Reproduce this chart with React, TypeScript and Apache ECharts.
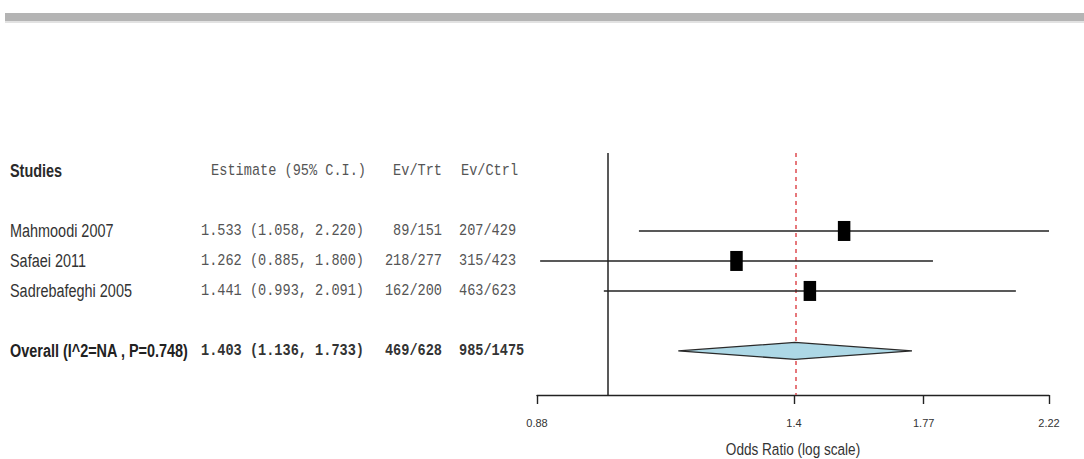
import React, { useEffect, useRef } from "react";
import * as echarts from "echarts";

// ---------- data ----------
const studies = ["Mahmoodi 2007", "Safaei 2011", "Sadrebafeghi 2005"];
const estimate = [1.533, 1.262, 1.441];
const lower = [1.058, 0.885, 0.993];
const upper = [2.22, 1.8, 2.091];
const evTrt = ["89/151", "218/277", "162/200"];
const evCtrl = ["207/429", "315/423", "463/623"];

const overallLabel = "Overall (I^2=NA , P=0.748)";
const overallEstimate = 1.403;
const overallLower = 1.136;
const overallUpper = 1.733;
const overallTrt = "469/628";
const overallCtrl = "985/1475";

const headers = ["Studies", "Estimate (95% C.I.)", "Ev/Trt", "Ev/Ctrl"];
const tickValues = [0.88, 1.4, 1.77, 2.22];
const tickLabels = ["0.88", "1.4", "1.77", "2.22"];
const axisMin = 0.88;
const axisMax = 2.22;
const nullValue = 1;
const axisTitle = "Odds Ratio (log scale)";

// row indices (layout rows)
const headerRow = 0;
const studyRows = [2, 3, 4];
const overallRow = 6;

// ---------- styles ----------
const SANS = '"Liberation Sans", Arial, sans-serif';
const MONO = '"Liberation Mono", "Courier New", monospace';
const NAME_X = 10;
const EST_X = 201;
const EST_HDR_RIGHT = 366;
const TRT_RIGHT = 442;
const CTRL_X = 459;
const CTRL_HDR_X = 461;

const fmt = (v: number) => v.toFixed(3);
const ciText = (e: number, l: number, u: number) => `${fmt(e)} (${fmt(l)}, ${fmt(u)})`;

type Cell = { x: number; text: string; font: "sans" | "mono"; bold?: boolean; align: "left" | "right"; color: string };

const tableRows: { row: number; cells: Cell[] }[] = [
  {
    row: headerRow,
    cells: [
      { x: NAME_X, text: headers[0], font: "sans", bold: true, align: "left", color: "#2a2a2a" },
      { x: EST_HDR_RIGHT, text: headers[1], font: "mono", align: "right", color: "#555" },
      { x: TRT_RIGHT, text: headers[2], font: "mono", align: "right", color: "#555" },
      { x: CTRL_HDR_X, text: headers[3], font: "mono", align: "left", color: "#555" },
    ],
  },
  ...studies.map((s, i) => ({
    row: studyRows[i],
    cells: [
      { x: NAME_X, text: s, font: "sans" as const, align: "left" as const, color: "#333" },
      { x: EST_X, text: ciText(estimate[i], lower[i], upper[i]), font: "mono" as const, align: "left" as const, color: "#555" },
      { x: TRT_RIGHT, text: evTrt[i], font: "mono" as const, align: "right" as const, color: "#555" },
      { x: CTRL_X, text: evCtrl[i], font: "mono" as const, align: "left" as const, color: "#555" },
    ],
  })),
  {
    row: overallRow,
    cells: [
      { x: NAME_X, text: overallLabel, font: "sans", bold: true, align: "left", color: "#222" },
      { x: EST_X, text: ciText(overallEstimate, overallLower, overallUpper), font: "mono", bold: true, align: "left", color: "#333" },
      { x: TRT_RIGHT, text: overallTrt, font: "mono", bold: true, align: "right", color: "#333" },
      { x: CTRL_X, text: overallCtrl, font: "mono", bold: true, align: "left", color: "#333" },
    ],
  },
];

const L = Math.log;

function buildOption(): any {
  const studyData = studies.map((_, i) => [L(estimate[i]), studyRows[i], L(lower[i]), L(upper[i])]);
  const overallData = [[L(overallEstimate), overallRow, L(overallLower), L(overallUpper)]];
  const tableData = tableRows.map((r, i) => [L(axisMin), r.row, i]);

  return {
    animation: false,
    backgroundColor: "#fff",
    grid: { left: 537, right: 35, top: 153, bottom: 64, containLabel: false },
    xAxis: {
      type: "value",
      min: L(axisMin),
      max: L(axisMax),
      splitLine: { show: false },
      axisLine: { show: true, onZero: false, lineStyle: { color: "#222", width: 1.4 } },
      axisTick: {
        show: true,
        length: 9,
        customValues: tickValues.map(L),
        lineStyle: { color: "#222", width: 1.4 },
      },
      axisLabel: {
        customValues: tickValues.map(L),
        margin: 22,
        fontSize: 11,
        fontFamily: '"Liberation Sans Narrow", "Liberation Sans", Arial, sans-serif',
        color: "#333",
        formatter: (v: number) => {
          let best = 0;
          tickValues.forEach((t, i) => {
            if (Math.abs(L(t) - v) < Math.abs(L(tickValues[best]) - v)) best = i;
          });
          return tickLabels[best];
        },
      },
    },
    yAxis: { type: "value", inverse: true, min: -0.6, max: 7.47, show: false },
    graphic: [
      { type: "rect", shape: { x: 5, y: 13, width: 1079, height: 8 }, style: { fill: "#b4b4b4" }, silent: true },
      { type: "rect", shape: { x: 5, y: 21, width: 1079, height: 2 }, style: { fill: "#e2e2e2" }, silent: true },
      {
        type: "text",
        x: 793,
        y: 449,
        scaleX: 0.8,
        style: { text: axisTitle, fontFamily: SANS, fontSize: 17, fill: "#333", align: "center", verticalAlign: "middle" },
        silent: true,
      },
    ],
    series: [
      {
        type: "scatter",
        data: studyData.map((d) => [d[0], d[1]]),
        symbolSize: 0,
        silent: true,
        z: 1,
        markLine: {
          silent: true,
          symbol: ["none", "none"],
          label: { show: false },
          z: 1,
          data: [
            { xAxis: L(nullValue), lineStyle: { color: "#222", width: 1.5, type: "solid" } },
            { xAxis: L(overallEstimate), lineStyle: { color: "#e0565b", width: 1.6, type: [4, 4] } },
          ],
        },
      },
      {
        type: "custom",
        name: "studies",
        clip: false,
        z: 3,
        data: studyData,
        renderItem: (params: any, api: any) => {
          const row = api.value(1);
          const p = api.coord([api.value(0), row]);
          const lo = api.coord([api.value(2), row]);
          const hi = api.coord([api.value(3), row]);
          const w = 12.5;
          const h = 20;
          return {
            type: "group",
            children: [
              { type: "line", shape: { x1: lo[0], y1: lo[1], x2: hi[0], y2: hi[1] }, style: { stroke: "#222", lineWidth: 1.6 } },
              { type: "rect", shape: { x: p[0] - w / 2, y: p[1] - h / 2, width: w, height: h }, style: { fill: "#000" } },
            ],
          };
        },
      },
      {
        type: "custom",
        name: "overall",
        clip: false,
        z: 3,
        data: overallData,
        renderItem: (params: any, api: any) => {
          const row = api.value(1);
          const p = api.coord([api.value(0), row]);
          const lo = api.coord([api.value(2), row]);
          const hi = api.coord([api.value(3), row]);
          const hh = 8.5;
          return {
            type: "polygon",
            shape: { points: [[lo[0], lo[1]], [p[0], p[1] - hh], [hi[0], hi[1]], [p[0], p[1] + hh]] },
            style: { fill: "#add8e6", stroke: "#2a2a2a", lineWidth: 1.3 },
          };
        },
      },
      {
        type: "custom",
        name: "table",
        clip: false,
        z: 3,
        silent: true,
        data: tableData,
        renderItem: (params: any, api: any) => {
          const r = tableRows[api.value(2)];
          const y = api.coord([api.value(0), api.value(1)])[1];
          return {
            type: "group",
            children: r.cells.map((c) => ({
              type: "text",
              x: c.x,
              y,
              scaleX: c.font === "sans" ? 0.76 : 0.8,
              style: {
                text: c.text,
                fontFamily: c.font === "sans" ? SANS : MONO,
                fontSize: c.font === "sans" ? 19 : 17,
                fontWeight: c.bold ? "bold" : "normal",
                fill: c.color,
                align: c.align,
                verticalAlign: "middle",
              },
            })),
          };
        },
      },
    ],
  };
}

export default function App() {
  const ref = useRef<HTMLDivElement>(null);
  useEffect(() => {
    document.body.style.margin = "0";
    const chart = echarts.init(ref.current!, null, { renderer: "svg" });
    chart.setOption(buildOption());
    return () => chart.dispose();
  }, []);
  return <div ref={ref} style={{ width: 1084, height: 459 }} />;
}
